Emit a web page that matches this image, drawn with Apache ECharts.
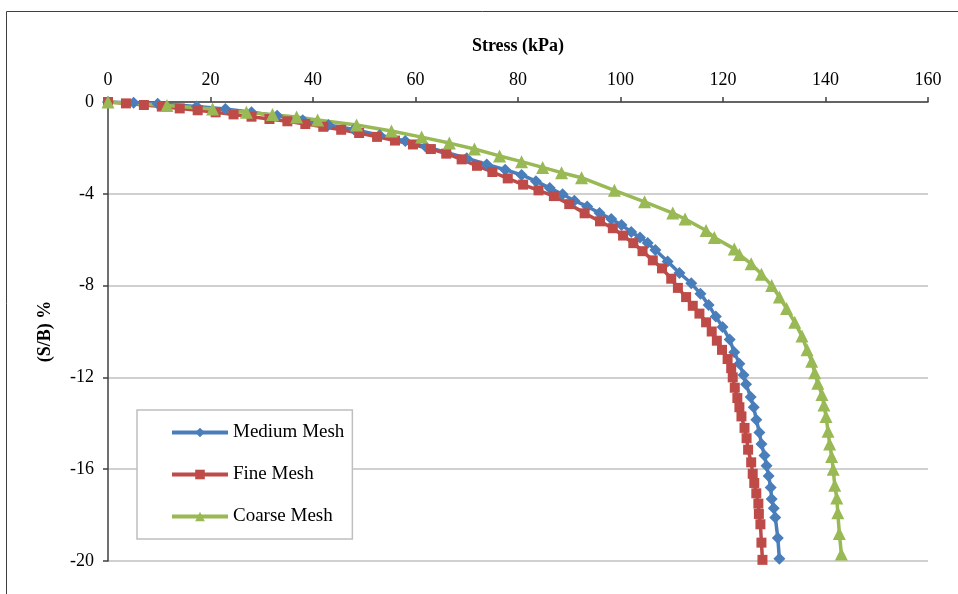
<!DOCTYPE html>
<html>
<head>
<meta charset="utf-8">
<script src="https://cdn.jsdelivr.net/npm/echarts@6/dist/echarts.min.js"></script>
<style>
  html, body { margin: 0; padding: 0; background: #fff; overflow: hidden; }
  #chart { width: 958px; height: 594px; }
</style>
</head>
<body>
<div id="chart"></div>
<script>
// stress (kPa) , (S/B) %
var mediumMesh = [
  [0, 0], [5, -0.03], [9.7, -0.08], [17.3, -0.2], [22.9, -0.3], [28, -0.45],
  [33, -0.6], [38, -0.8], [43, -1.0], [48, -1.2], [53, -1.45], [58, -1.7],
  [62, -1.95], [66, -2.2], [70, -2.45], [73.9, -2.72], [77.5, -2.95], [80.7, -3.18],
  [83.5, -3.45], [86.2, -3.75], [88.7, -4.02], [91, -4.3], [93.5, -4.55], [95.9, -4.84],
  [98.2, -5.1], [100.2, -5.36], [102.1, -5.66], [103.8, -5.9], [105.3, -6.14], [106.8, -6.45],
  [109.2, -6.95], [111.5, -7.45], [113.8, -7.9], [115.6, -8.35], [117.2, -8.85], [118.6, -9.35],
  [119.9, -9.8], [121.3, -10.35], [122.2, -10.9], [123.2, -11.4], [124.0, -11.9], [124.5, -12.3],
  [125.4, -12.85], [126.0, -13.3], [126.5, -13.85], [127.1, -14.4], [127.5, -14.9], [128.1, -15.4],
  [128.5, -15.85], [128.9, -16.3], [129.3, -16.8], [129.5, -17.3], [129.9, -17.7], [130.2, -18.1],
  [130.7, -19.0], [131.0, -19.9]
];
var fineMesh = [
  [0, 0], [3.5, -0.06], [7, -0.13], [10.5, -0.2], [14, -0.28], [17.5, -0.36],
  [21, -0.45], [24.5, -0.54], [28, -0.64], [31.5, -0.74], [35, -0.84], [38.5, -0.96],
  [42, -1.08], [45.5, -1.21], [49, -1.35], [52.5, -1.52], [56, -1.68], [59.5, -1.85],
  [63, -2.05], [66, -2.25], [69, -2.5], [72, -2.78], [75, -3.05], [78, -3.33],
  [81, -3.6], [84, -3.85], [87, -4.1], [90, -4.45], [93, -4.85], [96, -5.2],
  [98.5, -5.5], [100.5, -5.82], [102.5, -6.15], [104.3, -6.5], [106.3, -6.9], [108.1, -7.25],
  [109.9, -7.7], [111.2, -8.1], [112.8, -8.5], [114.1, -8.88], [115.4, -9.22], [116.7, -9.6],
  [117.8, -10.0], [118.8, -10.4], [119.8, -10.8], [120.9, -11.2], [121.6, -11.6], [121.9, -12.0],
  [122.3, -12.45], [122.8, -12.9], [123.2, -13.3], [123.6, -13.7], [124.2, -14.2], [124.6, -14.65],
  [124.9, -15.15], [125.5, -15.7], [125.8, -16.2], [126.1, -16.6], [126.5, -17.05], [126.9, -17.5],
  [127.0, -17.95], [127.3, -18.4], [127.5, -19.2], [127.7, -19.95]
];
var coarseMesh = [
  [0, 0], [11.5, -0.15], [20.4, -0.3], [27, -0.45], [32.1, -0.55], [36.8, -0.65],
  [40.9, -0.78], [48.5, -1.0], [55.3, -1.26], [61.2, -1.53], [66.6, -1.79], [71.5, -2.05],
  [76.4, -2.35], [80.7, -2.6], [84.8, -2.85], [88.5, -3.08], [92.4, -3.3], [98.8, -3.85],
  [104.7, -4.35], [110.2, -4.84], [112.6, -5.1], [116.7, -5.6], [118.3, -5.9], [122.2, -6.4],
  [123.2, -6.65], [125.5, -7.05], [127.5, -7.5], [129.5, -8.0], [131.0, -8.5], [132.4, -9.0],
  [134.0, -9.6], [135.4, -10.2], [136.4, -10.8], [137.3, -11.3], [137.9, -11.8], [138.5, -12.25],
  [139.3, -12.75], [139.7, -13.2], [140.1, -13.7], [140.5, -14.35], [140.8, -14.9], [141.2, -15.45],
  [141.5, -16.0], [141.8, -16.7], [142.2, -17.25], [142.4, -17.9], [142.7, -18.8], [143.1, -19.7]
];
var seriesNames = ['Medium Mesh', 'Fine Mesh', 'Coarse Mesh'];
var seriesColors = ['#4a7ebb', '#be4b48', '#98b954'];

var font = 'Liberation Serif, Times New Roman, serif';
var chart = echarts.init(document.getElementById('chart'));

var option = {
  animation: false,
  textStyle: { fontFamily: font, color: '#000' },
  graphic: [{
    type: 'rect',
    shape: { x: 6.5, y: 11.5, width: 1200, height: 1200 },
    style: { fill: 'none', stroke: '#404040', lineWidth: 1 },
    silent: true
  }],
  grid: { left: 108, top: 102, width: 820, height: 459 },
  legend: {
    orient: 'vertical',
    left: 137, top: 410,
    padding: [13, 8, 13, 33],
    itemWidth: 56, itemHeight: 12, itemGap: 23,
    borderColor: '#bfbfbf', borderWidth: 1.5,
    backgroundColor: '#fff',
    lineStyle: { width: 4 },
    textStyle: { fontFamily: font, fontSize: 19, color: '#000' },
    data: seriesNames
  },
  xAxis: {
    type: 'value', position: 'top',
    min: 0, max: 160, interval: 20,
    name: 'Stress (kPa)', nameLocation: 'middle', nameGap: 47,
    nameTextStyle: { fontFamily: font, fontSize: 18, fontWeight: 'bold', color: '#000' },
    axisLine: { lineStyle: { color: '#404040', width: 1.5 } },
    axisTick: { show: true, length: 5, lineStyle: { color: '#404040', width: 1.5 } },
    axisLabel: { fontFamily: font, fontSize: 18, color: '#000', margin: 13 },
    splitLine: { show: false }
  },
  yAxis: {
    type: 'value',
    min: -20, max: 0, interval: 4,
    name: '(S/B) %', nameLocation: 'middle', nameGap: 54,
    nameTextStyle: { fontFamily: font, fontSize: 18, fontWeight: 'bold', color: '#000' },
    axisLine: { show: true, lineStyle: { color: '#404040', width: 1.5 } },
    axisTick: { show: true, length: 5, lineStyle: { color: '#404040', width: 1.5 } },
    axisLabel: { fontFamily: font, fontSize: 18, color: '#000', margin: 14 },
    splitLine: { show: true, lineStyle: { color: '#c0c0c0', width: 1.5 } }
  },
  series: [
    {
      name: seriesNames[0], type: 'line', data: mediumMesh,
      symbol: 'diamond', symbolSize: 12,
      color: seriesColors[0],
      lineStyle: { width: 3.5, color: seriesColors[0] },
      itemStyle: { color: seriesColors[0] }
    },
    {
      name: seriesNames[1], type: 'line', data: fineMesh,
      symbol: 'rect', symbolSize: 10,
      color: seriesColors[1],
      lineStyle: { width: 3.5, color: seriesColors[1] },
      itemStyle: { color: seriesColors[1] }
    },
    {
      name: seriesNames[2], type: 'line', data: coarseMesh,
      symbol: 'triangle', symbolSize: 13,
      color: seriesColors[2],
      lineStyle: { width: 3.5, color: seriesColors[2] },
      itemStyle: { color: seriesColors[2] }
    }
  ]
};
chart.setOption(option);
</script>
</body>
</html>
